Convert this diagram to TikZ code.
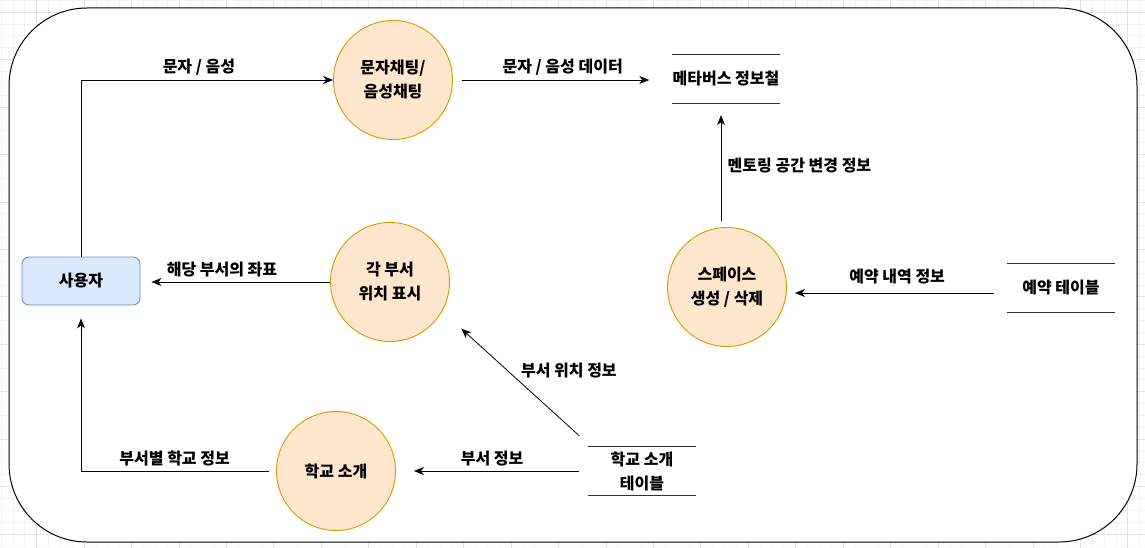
\documentclass[tikz,border=0pt]{standalone}
\usepackage{fontspec}
\setmainfont{Noto Sans CJK KR}
\usetikzlibrary{arrows.meta}

\definecolor{procfill}{HTML}{FFE6CC}
\definecolor{procline}{HTML}{D79B00}
\definecolor{userfill}{HTML}{DAE8FC}
\definecolor{userline}{HTML}{6C8EBF}
\definecolor{gridlight}{HTML}{F2F2F2}
\definecolor{griddark}{HTML}{E2E2E2}

\begin{document}
\begin{tikzpicture}[x=1pt,y=-1pt,>={Stealth[length=10pt,width=8pt,inset=3pt]},
  every node/.style={font=\fontsize{16}{24}\selectfont\bfseries, align=center},
  proc/.style={circle, draw=procline, fill=procfill, line width=0.9pt, minimum size=119pt, inner sep=0pt},
  actor/.style={rounded corners=7pt, draw=userline, fill=userfill, line width=0.9pt, minimum width=118pt, minimum height=48pt},
  store/.style={minimum width=107pt, minimum height=48pt, inner sep=0pt},
  flow/.style={->, line width=0.8pt}]
\useasboundingbox (0,0) rectangle (1145,548);
% grid
\foreach \i in {0,...,96}
  \draw[gridlight, line width=0.6pt] ({1+\i*11.86},0) -- ++(0,548);
\foreach \i in {0,...,46}
  \draw[gridlight, line width=0.6pt] (0,{0.2+\i*11.86}) -- ++(1145,0);
\foreach \i in {3,7,...,95}
  \draw[griddark, line width=0.6pt] ({1+\i*11.86},0) -- ++(0,548);
\foreach \i in {1,5,...,45}
  \draw[griddark, line width=0.6pt] (0,{0.2+\i*11.86}) -- ++(1145,0);
% frame
\draw[fill=white, line width=1pt, rounded corners=78pt] (9,8) rectangle (1137,542);
% processes
\node[actor] (user) at (81,281) {사용자};
\node[proc] (chat) at (393,80) {문자채팅/\\음성채팅};
\node[proc] (locate) at (390,282) {각 부서\\위치 표시};
\node[proc] (space) at (727,287) {스페이스\\생성 / 삭제};
\node[proc] (intro) at (336,471) {학교 소개};
% data stores
\node[store] (meta) at (726,79) {메타버스 정보철};
\node[store] (booking) at (1061,288) {예약 테이블};
\node[store] (schooltab) at (642,471) {학교 소개\\테이블};
\foreach \s in {meta,booking,schooltab}
  \draw[black!80, line width=0.8pt] (\s.north west) -- (\s.north east) (\s.south west) -- (\s.south east);
% flows
\draw[flow] (user.north) |- node[pos=0.734, above=1pt] {문자 / 음성} (chat.west);
\draw[flow, shorten <=9pt, shorten >=23pt] (chat.east) -- node[above=1pt] {문자 / 음성 데이터} (chat.east -| meta.west);
\draw[flow, shorten <=6pt, shorten >=12pt] ([xshift=-6pt]space.north) -- node[right=3pt] {멘토링 공간 변경 정보} ([xshift=-5pt]meta.south);
\draw[flow, shorten <=13pt, shorten >=8pt] ([yshift=-5pt]booking.west) -- node[above=5pt] {예약 내역 정보} ([yshift=-6pt]space.east);
\draw[flow, shorten >=11pt] (locate.west) -- node[pos=0.57, above=1pt] {해당 부서의 좌표} (locate.west -| user.east);
\draw[flow] ([shift={(-9pt,11pt)}]schooltab.north west) -- node[pos=0.61, right=10pt] {부서 위치 정보} ([shift={(21pt,-14pt)}]locate.-33);
\draw[flow, shorten <=9pt, shorten >=18pt] (schooltab.west) -- node[above=1pt] {부서 정보} (intro.east);
\draw[flow, shorten <=7pt, shorten >=13pt] (intro.west) -| node[pos=0.26, above=1pt] {부서별 학교 정보} (user.south);
\end{tikzpicture}
\end{document}
